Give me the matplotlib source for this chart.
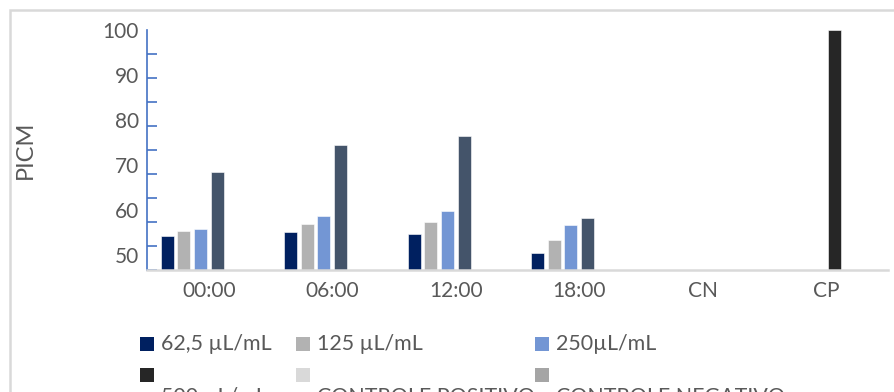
import numpy as np
import matplotlib.pyplot as plt
from matplotlib.patches import Rectangle
from matplotlib.ticker import FixedLocator, NullFormatter

# PICM per sampling time and dose
categories = ['00:00', '06:00', '12:00', '18:00', 'CN', 'CP']
dose_62 = [54.2, 55.1, 54.7, 50.4, np.nan, np.nan]
dose_125 = [55.4, 56.9, 57.3, 53.3, np.nan, np.nan]
dose_250 = [55.8, 58.7, 59.7, 56.7, np.nan, np.nan]
dose_500 = [68.5, 74.4, 76.4, 58.3, np.nan, 100.0]
ctrl_pos = [np.nan] * 6
ctrl_neg = [np.nan] * 6
series_labels = ['62,5 µL/mL', '125 µL/mL', '250µL/mL',
                 '500 µL/mL', 'CONTROLE POSITIVO', 'CONTROLE NEGATIVO']
y_ticklabels = [50, 60, 70, 80, 90, 100]

W, H = 894, 392
TEXT = '#595959'
colors = ['#002060', '#b2b2b2', '#7396d4', '#44546a', '#d9d9d9', '#a5a5a5']
legend_colors = ['#002060', '#b2b2b2', '#7396d4', '#262626', '#d9d9d9', '#a5a5a5']
cp_color = '#262626'

plt.rcParams['font.family'] = ['Lato', 'DejaVu Sans']

fig = plt.figure(figsize=(W / 100, H / 100), dpi=100)
ax = fig.add_axes([147 / W, 122 / H, 741 / W, 240 / H])

ymin, ymax = 46.667, 100
series = [dose_62, dose_125, dose_250, dose_500, ctrl_pos, ctrl_neg]
x = np.arange(len(categories))
slot = 0.1344
bar_w = 0.105
for j, vals in enumerate(series):
    vals = np.asarray(vals, dtype=float)
    cols = [colors[j]] * len(categories)
    if j == 3:
        cols[-1] = cp_color
    ax.bar(x + (j - 2.5) * slot, vals - ymin, bottom=ymin, width=bar_w,
           color=cols, edgecolor='white', linewidth=0.4, label=series_labels[j])

ax.set_xlim(-0.5, len(categories) - 0.5)
ax.set_ylim(ymin, ymax)

# labelled ticks carry no marks, the small inward marks are spaced on their own
ax.set_yticks(y_ticklabels)
ax.set_yticklabels([str(v) for v in y_ticklabels])
ax.yaxis.set_minor_locator(FixedLocator(np.linspace(ymin, ymax, 11)))
ax.yaxis.set_minor_formatter(NullFormatter())
ax.tick_params(axis='y', which='major', length=0, pad=6, labelsize=15, labelcolor=TEXT)
ax.tick_params(axis='y', which='minor', direction='in', length=7.5, width=1.2, color='#4472c4')

ax.set_xticks(x)
ax.set_xticklabels(categories)
ax.tick_params(axis='x', length=0, pad=8, labelsize=15, labelcolor=TEXT)

for side in ['top', 'right']:
    ax.spines[side].set_visible(False)
ax.spines['left'].set_color('#4472c4')
ax.spines['left'].set_linewidth(1.2)
ax.spines['bottom'].set_color('#d9d9d9')
ax.spines['bottom'].set_linewidth(1.8)

ax.set_ylabel('PICM', fontsize=17, color=TEXT, labelpad=0)
ax.yaxis.set_label_coords(-111 / 741, 0.5)

# chart frame, running past the right and bottom edges
fig.add_artist(Rectangle((10 / W, -0.5), 2.0, 1 - 10 / H + 0.5,
                         transform=fig.transFigure, fill=False,
                         edgecolor='#d9d9d9', linewidth=1.8))

# legend laid out in two rows of three
col_x = [140, 296, 535]
row_sq_top = [337, 368]
for k, lab in enumerate(series_labels):
    r, c = divmod(k, 3)
    sx, sy = col_x[c], row_sq_top[r]
    fig.add_artist(Rectangle((sx / W, 1 - (sy + 14) / H), 14 / W, 14 / H,
                             transform=fig.transFigure, facecolor=legend_colors[k],
                             edgecolor='none'))
    if r == 0:
        fig.text((sx + 21) / W, 1 - (sy + 7) / H, lab, fontsize=15.4,
                 color=TEXT, va='center', ha='left')
    else:
        fig.text((sx + 21) / W, 1 - 387 / H, lab, fontsize=15.4,
                 color=TEXT, va='top', ha='left')

fig.savefig('out.png', dpi=100)
